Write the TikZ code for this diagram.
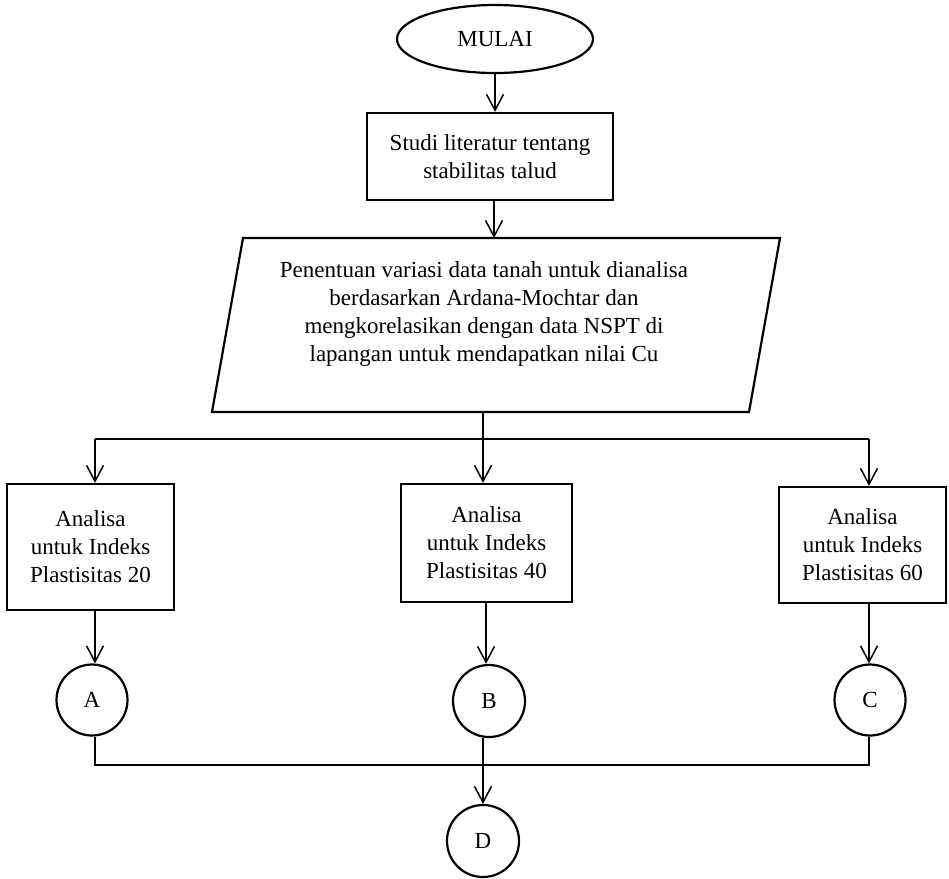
\documentclass[tikz,border=0pt]{standalone}
\usepackage{fontspec}
\setmainfont{Liberation Serif}
\usetikzlibrary{arrows.meta,shapes.geometric}
\tikzset{
  fnt/.style={font=\fontsize{23}{28}\selectfont},
  box/.style={draw, line width=2.2pt, inner sep=0pt, align=center, fnt},
  circ/.style={draw, circle, line width=2.2pt, inner sep=0pt, fnt},
  txt/.style={inner sep=0pt, align=center, fnt},
  conn/.style={line width=1.5pt},
  arr/.style={line width=1.5pt, -{Straight Barb[length=16pt,width=17pt]}},
}
\begin{document}
\begin{tikzpicture}[x=1pt,y=-1pt]
\useasboundingbox (0,0) rectangle (949,878);
% start
\node[draw, ellipse, line width=2.2pt, minimum width=196pt, minimum height=68pt, inner sep=0pt, fnt] (mulai) at (495,39) {MULAI};
\node[box, minimum width=246pt, minimum height=87pt] (studi) at (490,156.5) {Studi literatur tentang\\stabilitas talud};
% parallelogram
\coordinate (p1) at (243,238);
\coordinate (p2) at (780,238);
\coordinate (p3) at (749,412);
\coordinate (p4) at (212,412);
\draw[line width=2.2pt, line join=miter] (p1) -- (p2) -- (p3) -- (p4) -- cycle;
\node[txt] (par) at (484,314) {Penentuan variasi data tanah untuk dianalisa\\berdasarkan Ardana-Mochtar dan\\mengkorelasikan dengan data NSPT di\\lapangan untuk mendapatkan nilai Cu};
\coordinate (ptop) at (494,238);
\coordinate (pbot) at (483,412);
\coordinate (split) at (483,439);
% analysis boxes
\node[box, minimum width=167pt, minimum height=126pt] (A) at (90.5,547) {Analisa\\untuk Indeks\\Plastisitas 20};
\node[box, minimum width=171pt, minimum height=118pt] (B) at (486.5,543) {Analisa\\untuk Indeks\\Plastisitas 40};
\node[box, minimum width=167pt, minimum height=116pt] (C) at (862.5,545) {Analisa\\untuk Indeks\\Plastisitas 60};
% connectors
\node[circ, minimum size=71pt] (cA) at (92,700) {A};
\node[circ, minimum size=72pt] (cB) at (489,701) {B};
\node[circ, minimum size=71pt] (cC) at (870,700) {C};
\node[circ, minimum size=72pt] (cD) at (483,841) {D};
\coordinate (jA) at (95,765);
\coordinate (jC) at (869,765);
\coordinate (jm) at (483,765);
% arrows
\draw[arr] (mulai.south) -- (mulai.south |- studi.north);
\draw[arr] (studi.south -| ptop) -- (ptop);
\draw[conn] (pbot) -- (split);
\draw[conn] (jA |- split) -- (jC |- split);
\draw[arr] (jA |- split) -- (jA |- A.north);
\draw[arr] (split) -- (split |- B.north);
\draw[arr] (jC |- split) -- (jC |- C.north);
\draw[arr] (jA |- A.south) -- (jA |- cA.north);
\draw[arr] (486,602) coordinate (bs) -- (bs |- cB.north);
\draw[arr] (jC |- C.south) -- (jC |- cC.north);
\draw[conn] (jA |- cA.south) -- (jA) -- (jC) -- (jC |- cC.south);
\draw[conn] (jm |- cB.south) -- (jm);
\draw[arr] (jm) -- (cD.north);
\end{tikzpicture}
\end{document}
